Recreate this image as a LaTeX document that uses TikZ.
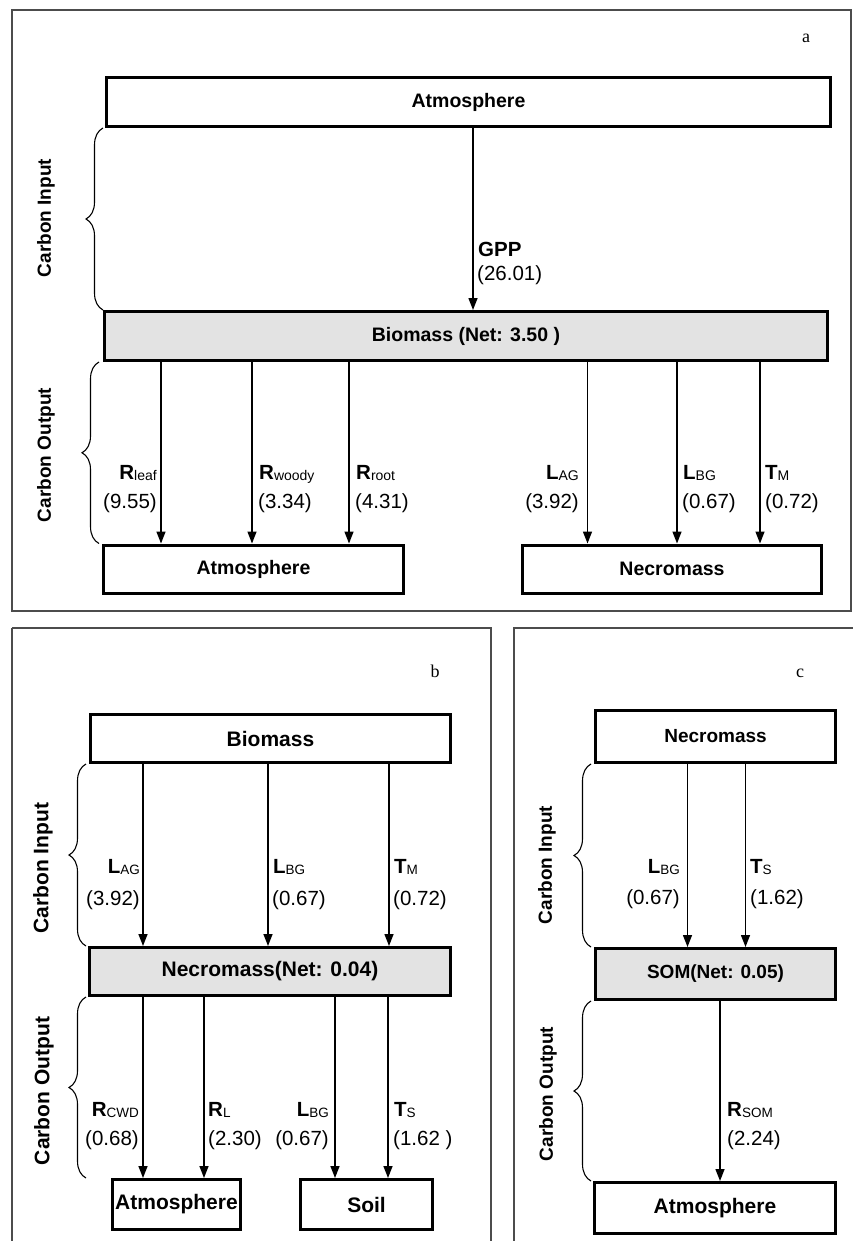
\documentclass[tikz,border=0pt]{standalone}
\usepackage{fontspec}
\setmainfont{Liberation Sans}
\newfontfamily\tagfont{Liberation Serif}
\usetikzlibrary{arrows.meta,decorations.pathreplacing}
\newcommand\flx[3]{\textbf{#2}\raisebox{-1.5pt}{\fontsize{#1}{#1}\selectfont #3}}
\tikzset{
  box/.style={draw, line width=3pt, inner sep=0pt},
  shaded/.style={fill=gray!22},
  arr/.style={line width=1.4pt, -{Triangle[length=12pt,width=9pt]}},
  frame/.style={draw=black!70, line width=1.3pt},
  brc/.style={decorate, decoration={brace, amplitude=17pt}, line width=1.1pt},
  side/.style={rotate=90, inner sep=0pt},
  lab/.style={inner sep=0pt, font=\fontsize{20.5}{24}\selectfont},
  tag/.style={inner sep=0pt, font=\tagfont\fontsize{18}{20}\selectfont},
  fa/.style={font=\bfseries\fontsize{19.5}{24}\selectfont},
  fb/.style={font=\bfseries\fontsize{21}{24}\selectfont},
  fc/.style={font=\bfseries\fontsize{19}{24}\selectfont}
}
\begin{document}
\begin{tikzpicture}[x=1pt,y=-1pt]
\useasboundingbox (0,0) rectangle (852,1241);
% ---------------- panel a ----------------
\draw[frame] (12,10) rectangle (851,611);
\node[tag] (taga) at (806,38) {a};
\node[box, fa, minimum width=724, minimum height=49] (atmA) at (468.5,102) {Atmosphere};
\node[box, fa, shaded, minimum width=723, minimum height=49] (bioA) at (466,336) {Biomass (Net: 3.50 )};
\node[box, fa, minimum width=300, minimum height=48] (atmA2) at (253.5,569) {Atmosphere};
\node[box, fa, minimum width=299, minimum height=48] (necA) at (672,569) {Necromass};
\coordinate (xg) at (473,0);
\coordinate (xa1) at (161,0);
\coordinate (xa2) at (252,0);
\coordinate (xa3) at (349,0);
\coordinate (xa4) at (587.5,0);
\coordinate (xa5) at (677,0);
\coordinate (xa6) at (760,0);
\draw[arr] (atmA.south -| xg) -- (bioA.north -| xg);
\draw[arr] (bioA.south -| xa1) -- (atmA2.north -| xa1);
\draw[arr] (bioA.south -| xa2) -- (atmA2.north -| xa2);
\draw[arr] (bioA.south -| xa3) -- (atmA2.north -| xa3);
\draw[arr] (bioA.south -| xa4) -- (necA.north -| xa4);
\draw[arr] (bioA.south -| xa5) -- (necA.north -| xa5);
\draw[arr] (bioA.south -| xa6) -- (necA.north -| xa6);
\node[lab, anchor=base west] (gppn) at (478,257) {\textbf{GPP}};
\node[lab, anchor=base west] (gppv) at (477,280) {(26.01)};
\node[lab, anchor=base east] (rln) at (157,479) {\flx{14}{R}{leaf}};
\node[lab, anchor=base east] (rlv) at (157,508) {(9.55)};
\node[lab, anchor=base west] (rwn) at (259,479) {\flx{14}{R}{woody}};
\node[lab, anchor=base west] (rwv) at (258,508) {(3.34)};
\node[lab, anchor=base west] (rrn) at (356,479) {\flx{14}{R}{root}};
\node[lab, anchor=base west] (rrv) at (355,508) {(4.31)};
\node[lab, anchor=base east] (lan) at (579,479) {\flx{14}{L}{AG}};
\node[lab, anchor=base east] (lav) at (579,508) {(3.92)};
\node[lab, anchor=base west] (lbn) at (683,479) {\flx{14}{L}{BG}};
\node[lab, anchor=base west] (lbv) at (682,508) {(0.67)};
\node[lab, anchor=base west] (tmn) at (765,479) {\flx{14}{T}{M}};
\node[lab, anchor=base west] (tmv) at (765,508) {(0.72)};
\coordinate (abx1) at (103,0);
\coordinate (abx2) at (99,0);
\draw[brc] (bioA.north -| abx1) -- (atmA.south -| abx1);
\draw[brc] (atmA2.north -| abx2) -- (bioA.south -| abx2);
\node[side, font=\bfseries\fontsize{19}{22}\selectfont] (ciA) at (46,218) {Carbon Input};
\node[side, font=\bfseries\fontsize{19}{22}\selectfont] (coA) at (46,455) {Carbon Output};
% ---------------- panel b ----------------
\draw[frame] (12,628) -- (491,628) -- (491,1250);
\draw[frame] (12,628) -- (12,1250);
\node[tag] (tagb) at (435,671) {b};
\node[box, fb, minimum width=360, minimum height=48] (bioB) at (270.5,738.5) {Biomass};
\node[box, fb, shaded, minimum width=361, minimum height=48] (necB) at (270,971.5) {Necromass(Net: 0.04)};
\node[box, fb, minimum width=128, minimum height=50] (atmB) at (176.5,1204.5) {Atmosphere};
\node[box, fb, minimum width=132, minimum height=50] (soilB) at (366.5,1204.5) {Soil};
\coordinate (xb1) at (143,0);
\coordinate (xb2) at (268,0);
\coordinate (xb3) at (389,0);
\coordinate (xb4) at (204,0);
\coordinate (xb5) at (335,0);
\coordinate (xb6) at (388,0);
\draw[arr] (bioB.south -| xb1) -- (necB.north -| xb1);
\draw[arr] (bioB.south -| xb2) -- (necB.north -| xb2);
\draw[arr] (bioB.south -| xb3) -- (necB.north -| xb3);
\draw[arr] (necB.south -| xb1) -- (atmB.north -| xb1);
\draw[arr] (necB.south -| xb4) -- (atmB.north -| xb4);
\draw[arr] (necB.south -| xb5) -- (soilB.north -| xb5);
\draw[arr] (necB.south -| xb6) -- (soilB.north -| xb6);
\node[lab, anchor=base east] (blan) at (140,873) {\flx{13.5}{L}{AG}};
\node[lab, anchor=base east] (blav) at (140,905) {(3.92)};
\node[lab, anchor=base west] (blbn) at (273,873) {\flx{13.5}{L}{BG}};
\node[lab, anchor=base west] (blbv) at (272,905) {(0.67)};
\node[lab, anchor=base west] (btmn) at (394,873) {\flx{13.5}{T}{M}};
\node[lab, anchor=base west] (btmv) at (393,905) {(0.72)};
\node[lab, anchor=base east] (brcn) at (139,1116) {\flx{13.5}{R}{CWD}};
\node[lab, anchor=base east] (brcv) at (139,1145) {(0.68)};
\node[lab, anchor=base west] (brln) at (208,1116) {\flx{13.5}{R}{L}};
\node[lab, anchor=base west] (brlv) at (208,1145) {(2.30)};
\node[lab, anchor=base east] (bl2n) at (329,1116) {\flx{13.5}{L}{BG}};
\node[lab, anchor=base east] (bl2v) at (329,1145) {(0.67)};
\node[lab, anchor=base west] (btsn) at (394,1116) {\flx{13.5}{T}{S}};
\node[lab, anchor=base west] (btsv) at (393,1145) {(1.62 )};
\coordinate (bbx) at (86,0);
\draw[brc] (necB.north -| bbx) -- (bioB.south -| bbx);
\draw[brc] (atmB.north -| bbx) -- (necB.south -| bbx);
\node[side, font=\bfseries\fontsize{21}{24}\selectfont] (ciB) at (43,868) {Carbon Input};
\node[side, font=\bfseries\fontsize{21}{24}\selectfont] (coB) at (44,1091) {Carbon Output};
% ---------------- panel c ----------------
\draw[frame] (514,1250) -- (514,628) -- (860,628);
\node[tag] (tagc) at (800,673) {c};
\node[box, fc, minimum width=240, minimum height=52] (necC) at (715.5,736.5) {Necromass};
\node[box, fc, shaded, minimum width=240, minimum height=51] (somC) at (715.5,974) {SOM(Net: 0.05)};
\node[box, fb, minimum width=241, minimum height=51] (atmC) at (715,1208) {Atmosphere};
\coordinate (xc1) at (687.5,0);
\coordinate (xc2) at (745.5,0);
\coordinate (xc3) at (720,0);
\draw[arr] (necC.south -| xc1) -- (somC.north -| xc1);
\draw[arr] (necC.south -| xc2) -- (somC.north -| xc2);
\draw[arr] (somC.south -| xc3) -- (atmC.north -| xc3);
\node[lab, anchor=base east] (clbn) at (680,873) {\flx{13.5}{L}{BG}};
\node[lab, anchor=base east] (clbv) at (680,904) {(0.67)};
\node[lab, anchor=base west] (ctsn) at (750,873) {\flx{13.5}{T}{S}};
\node[lab, anchor=base west] (ctsv) at (750,904) {(1.62)};
\node[lab, anchor=base west] (crsn) at (727,1116) {\flx{13.5}{R}{SOM}};
\node[lab, anchor=base west] (crsv) at (727,1145) {(2.24)};
\coordinate (cbx) at (591,0);
\draw[brc] (somC.north -| cbx) -- (necC.south -| cbx);
\draw[brc] (atmC.north -| cbx) -- (somC.south -| cbx);
\node[side, font=\bfseries\fontsize{19}{22}\selectfont] (ciC) at (547,865) {Carbon Input};
\node[side, font=\bfseries\fontsize{19}{22}\selectfont] (coC) at (548,1094) {Carbon Output};
\end{tikzpicture}
\end{document}
